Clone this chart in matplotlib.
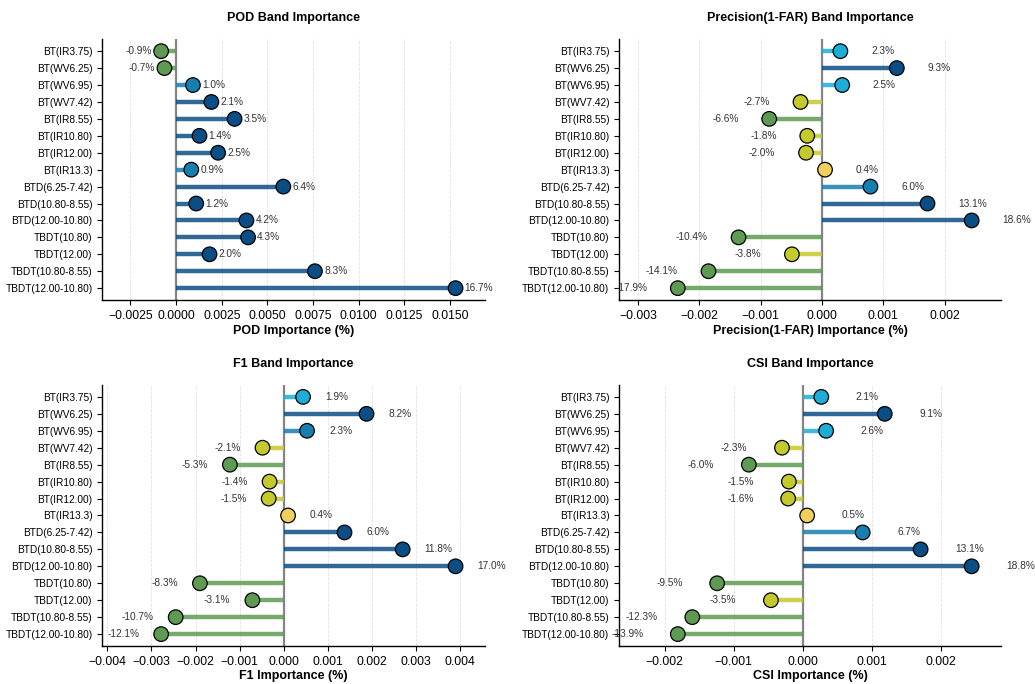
import numpy as np
import matplotlib
matplotlib.use("Agg")
import matplotlib.pyplot as plt
from matplotlib.colors import ListedColormap, BoundaryNorm

plt.rcParams['font.family'] = ['Liberation Sans', 'DejaVu Sans']

bands = ["BT(IR3.75)", "BT(WV6.25)", "BT(WV6.95)", "BT(WV7.42)", "BT(IR8.55)",
         "BT(IR10.80)", "BT(IR12.00)", "BT(IR13.3)", "BTD(6.25-7.42)",
         "BTD(10.80-8.55)", "BTD(12.00-10.80)", "TBDT(10.80)", "TBDT(12.00)",
         "TBDT(10.80-8.55)", "TBDT(12.00-10.80)"]

pod_vals = [-0.00082, -0.00064, 0.00092, 0.00193, 0.00320, 0.00128, 0.00230, 0.00083,
            0.00587, 0.00110, 0.00385, 0.00394, 0.00183, 0.00760, 0.01530]
pod_pct = [-0.9, -0.7, 1.0, 2.1, 3.5, 1.4, 2.5, 0.9, 6.4, 1.2, 4.2, 4.3, 2.0, 8.3, 16.7]

prec_vals = [0.00030, 0.00122, 0.00033, -0.00035, -0.00086, -0.00024, -0.00026, 0.00005,
             0.00079, 0.00172, 0.00244, -0.00136, -0.00049, -0.00185, -0.00235]
prec_pct = [2.3, 9.3, 2.5, -2.7, -6.6, -1.8, -2.0, 0.4, 6.0, 13.1, 18.6, -10.4, -3.8, -14.1, -17.9]

f1_vals = [0.00044, 0.00188, 0.00053, -0.00048, -0.00122, -0.00032, -0.00034, 0.00010,
           0.00138, 0.00270, 0.00390, -0.00190, -0.00071, -0.00245, -0.00278]
f1_pct = [1.9, 8.2, 2.3, -2.1, -5.3, -1.4, -1.5, 0.4, 6.0, 11.8, 17.0, -8.3, -3.1, -10.7, -12.1]

csi_vals = [0.00027, 0.00119, 0.00034, -0.00030, -0.00078, -0.00020, -0.00021, 0.000065,
            0.00087, 0.00171, 0.00245, -0.00124, -0.00046, -0.00160, -0.00181]
csi_pct = [2.1, 9.1, 2.6, -2.3, -6.0, -1.5, -1.6, 0.5, 6.7, 13.1, 18.8, -9.5, -3.5, -12.3, -13.9]

panels = [
    ("POD", pod_vals, pod_pct),
    ("Precision(1-FAR)", prec_vals, prec_pct),
    ("F1", f1_vals, f1_pct),
    ("CSI", csi_vals, csi_pct),
]

cmap = ListedColormap(["#5e9a52", "#c4ca2c", "#f1cf5c", "#1eadd6", "#177fb0", "#0b4e86"])
norm = BoundaryNorm([-1, -0.0005, 0, 0.0002, 0.0005, 0.001, 1], cmap.N)

fig = plt.figure(figsize=(10.35, 6.84), dpi=100)
rects = [
    [0.0988, 0.5614, 0.3698, 0.3811],
    [0.5981, 0.5614, 0.3691, 0.3811],
    [0.0988, 0.0556, 0.3698, 0.3815],
    [0.5981, 0.0556, 0.3691, 0.3815],
]

for (name, vals, pct), rect in zip(panels, rects):
    ax = fig.add_axes(rect)
    v = np.array(vals)
    y = np.arange(len(bands))
    cols = cmap(norm(v))
    ax.axvline(0, color="#555555", lw=1.6, alpha=0.7, zorder=1)
    ax.hlines(y, 0, v, colors=cols, lw=3.2, alpha=0.85, zorder=2)
    ax.scatter(v, y, s=110, c=cols, edgecolors="black", linewidths=0.9, zorder=3)
    off = 0.0005
    for yi, vi, pi in zip(y, v, pct):
        if vi >= 0:
            ax.text(vi + off, yi, f"{pi:.1f}%", ha="left", va="center", fontsize=7.3, color="#333333")
        else:
            ax.text(vi - off, yi, f"{pi:.1f}%", ha="right", va="center", fontsize=7.3, color="#333333")
    r = v.max() - v.min()
    ax.set_xlim(v.min() - 0.2 * r, v.max() + 0.1 * r)
    ax.set_ylim(len(bands) - 1 + 0.7, -0.7)
    ax.set_yticks(y)
    ax.set_yticklabels(bands, fontsize=7.3)
    ax.tick_params(axis="x", labelsize=8.8, length=3.5)
    ax.tick_params(axis="y", length=3.5)
    ax.grid(axis="x", linestyle="--", color="#cccccc", lw=0.6, alpha=0.6)
    ax.set_axisbelow(True)
    for s in ["top", "right"]:
        ax.spines[s].set_visible(False)
    ax.spines["left"].set_linewidth(1.0)
    ax.spines["bottom"].set_linewidth(1.0)
    ax.set_title(f"{name} Band Importance", fontsize=9, fontweight="bold", pad=13)
    ax.set_xlabel(f"{name} Importance (%)", fontsize=9, fontweight="bold", labelpad=2)

fig.savefig("out.png", dpi=100)
